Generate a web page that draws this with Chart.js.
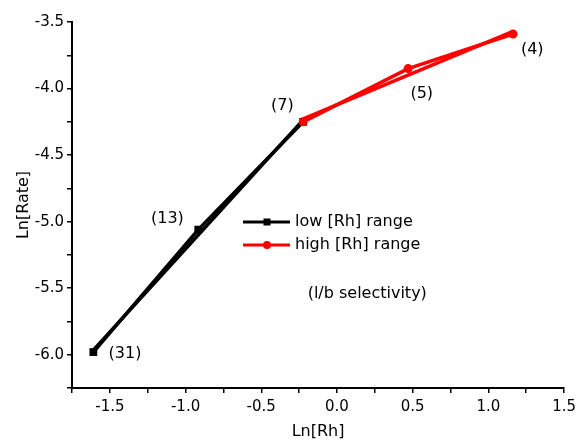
<!DOCTYPE html>
<html>
<head>
<meta charset="utf-8">
<script src="https://cdn.jsdelivr.net/npm/chart.js@4.4.1/dist/chart.umd.min.js"></script>
<style>
  html, body { margin: 0; padding: 0; background: #fff; }
  #wrap { width: 581px; height: 441px; }
</style>
</head>
<body>
<div id="wrap"><canvas id="c"></canvas></div>
<script>
// Ln[Rh] values (Rh loading 0.2, 0.4, 0.8 / 0.8, 1.6, 3.2) and Ln[Rate]
const lowX = [-1.609, -0.916, -0.223];
const lowY = [-5.98, -5.06, -4.25];
const highX = [-0.223, 0.470, 1.163];
const highY = [-4.25, -3.85, -3.59];

// straight fit lines drawn under each series, end points
const lowFitX = [-1.609, -0.223];
const lowFitY = [-5.965, -4.235];
const highFitX = [-0.223, 1.163];
const highFitY = [-4.228, -3.57];

const seriesNames = ['low [Rh] range', 'high [Rh] range'];
const seriesColors = ['#000000', '#ff0000'];

// l/b selectivity labels, placed in data units
const noteText = ['(31)', '(13)', '(7)', '(5)', '(4)', '(l/b selectivity)'];
const noteX = [-1.40, -1.12, -0.36, 0.56, 1.29, 0.20];
const noteY = [-5.99, -4.98, -4.13, -4.04, -3.71, -5.54];

const FONT = 'DejaVu Sans';

const toPoints = (xs, ys) => xs.map((x, i) => ({ x, y: ys[i] }));

/* ── labels + legend, drawn on top of the plot ───────────── */

const overlay = {
  id: 'overlay',
  afterDatasetsDraw(chart) {
    const { ctx, scales: { x, y } } = chart;
    ctx.save();
    ctx.fillStyle = '#000';
    ctx.font = `16px "${FONT}"`;
    ctx.textAlign = 'center';
    ctx.textBaseline = 'middle';
    noteText.forEach((t, i) => {
      ctx.fillText(t, x.getPixelForValue(noteX[i]), y.getPixelForValue(noteY[i]));
    });

    // legend
    const lx = 243, ly = 222, gap = 23;
    seriesNames.forEach((name, i) => {
      const yy = ly + i * gap;
      ctx.strokeStyle = seriesColors[i];
      ctx.fillStyle = seriesColors[i];
      ctx.lineWidth = 3;
      ctx.beginPath();
      ctx.moveTo(lx, yy);
      ctx.lineTo(lx + 47, yy);
      ctx.stroke();
      const mx = lx + 24;
      if (i === 0) {
        ctx.fillRect(mx - 3.5, yy - 3.5, 7, 7);
      } else {
        ctx.beginPath();
        ctx.arc(mx, yy, 4, 0, Math.PI * 2);
        ctx.fill();
      }
      ctx.fillStyle = '#000';
      ctx.textAlign = 'left';
      ctx.fillText(name, lx + 52, yy);
    });
    ctx.restore();
  }
};

const tickLabel = v => {
  const r = Math.round(v * 100) / 100;
  return Math.abs(r * 2 - Math.round(r * 2)) < 1e-6 ? r.toFixed(1) : '';
};

const axisCommon = {
  type: 'linear',
  grid: {
    display: true,
    drawOnChartArea: false,
    drawTicks: true,
    tickLength: 5,
    color: '#000',
    lineWidth: 1.5
  },
  border: { display: true, color: '#000', width: 2 },
};

const fitLine = (xs, ys, color) => ({
  data: toPoints(xs, ys),
  showLine: true,
  borderColor: color,
  borderWidth: 3.5,
  pointRadius: 0,
  tension: 0
});

// first dataset is drawn on top: red over black, as in the original
new Chart(document.getElementById('c'), {
  type: 'scatter',
  data: {
    datasets: [
      {
        label: seriesNames[1],
        data: toPoints(highX, highY),
        showLine: true,
        borderColor: seriesColors[1],
        backgroundColor: seriesColors[1],
        borderWidth: 3.5,
        pointStyle: 'circle',
        pointRadius: 4.5,
        pointBorderWidth: 0,
        tension: 0
      },
      fitLine(highFitX, highFitY, seriesColors[1]),
      {
        label: seriesNames[0],
        data: toPoints(lowX, lowY),
        showLine: true,
        borderColor: seriesColors[0],
        backgroundColor: seriesColors[0],
        borderWidth: 3.5,
        pointStyle: 'rect',
        pointRadius: 5.5,
        pointBorderWidth: 0,
        tension: 0
      },
      fitLine(lowFitX, lowFitY, seriesColors[0])
    ]
  },
  options: {
    responsive: true,
    maintainAspectRatio: false,
    animation: false,
    layout: { padding: { top: 22, right: 13, left: 0, bottom: 0 } },
    plugins: {
      legend: { display: false },
      tooltip: { enabled: false }
    },
    scales: {
      x: {
        ...axisCommon,
        position: 'bottom',
        min: -1.75,
        max: 1.5,
        afterFit: s => { s.height = 53; },
        ticks: {
          stepSize: 0.25,
          autoSkip: false,
          maxRotation: 0,
          padding: 5,
          color: '#000',
          font: { family: FONT, size: 15 },
          callback: tickLabel
        },
        title: {
          display: true,
          text: 'Ln[Rh]',
          color: '#000',
          font: { family: FONT, size: 16 },
          padding: { top: 0, bottom: 0 }
        }
      },
      y: {
        ...axisCommon,
        position: 'left',
        min: -6.25,
        max: -3.5,
        afterFit: s => { s.width = 72; },
        ticks: {
          stepSize: 0.25,
          autoSkip: false,
          padding: 3,
          color: '#000',
          font: { family: FONT, size: 15 },
          callback: tickLabel
        },
        title: {
          display: true,
          text: 'Ln[Rate]',
          color: '#000',
          font: { family: FONT, size: 16 },
          padding: { top: 14, bottom: 0 }
        }
      }
    }
  },
  plugins: [overlay]
});
</script>
</body>
</html>
